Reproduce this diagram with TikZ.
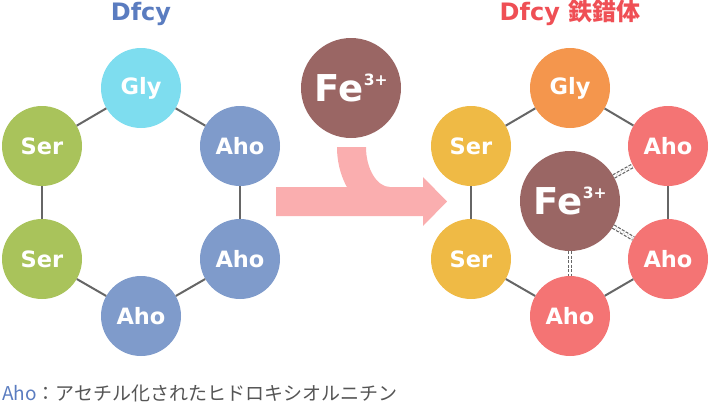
\documentclass[tikz,border=0pt]{standalone}
\usepackage{fontspec}
\setmainfont{DejaVu Sans}
\newfontfamily\cjk{Noto Sans CJK JP}
\definecolor{lblue}{HTML}{7F9BCB}
\definecolor{lcyan}{HTML}{7EDDEF}
\definecolor{lgreen}{HTML}{A9C35B}
\definecolor{rorange}{HTML}{F4964D}
\definecolor{ryellow}{HTML}{EFBA45}
\definecolor{rred}{HTML}{F47474}
\definecolor{fecol}{HTML}{9A6664}
\definecolor{tblue}{HTML}{5A7CC0}
\definecolor{tred}{HTML}{EF4F55}
\definecolor{edgecol}{HTML}{666666}
\definecolor{legcol}{HTML}{555555}
\definecolor{arrowpink}{HTML}{FAAEAF}
\newcommand{\fetext}{\fontsize{37}{37}\selectfont Fe\kern0.5pt\raisebox{15.5pt}{\fontsize{15.5}{15.5}\selectfont 3+}}
\begin{document}
\begin{tikzpicture}[x=1pt,y=-1pt,
  res/.style={circle, minimum size=80pt, inner sep=0pt, text=white, font=\bfseries\fontsize{22.5}{22.5}\selectfont},
  fe/.style={circle, minimum size=100pt, inner sep=0pt, fill=fecol, text=white, font=\bfseries},
  bond/.style={draw=edgecol, line width=2pt},
  hbond/.style={draw=edgecol, line width=1.2pt, double=white, double distance=2.4pt, dash pattern=on 3pt off 1.5pt},
  title/.style={anchor=base, inner sep=0pt, font=\bfseries\fontsize{24}{24}\selectfont}]
\path[use as bounding box] (0,0) rectangle (710,405);

% titles
\node[title, text=tblue] (t1) at (141,20) {Dfcy};
\node[title, text=tred] (t2) at (570,20) {Dfcy {\cjk\bfseries 鉄錯体}};

% arrow
\fill[arrowpink] (276,187) -- (423,187) -- (423,177) -- (447,201.5) -- (423,226) -- (423,216) -- (276,216) -- cycle;
\fill[arrowpink] (337,147) .. controls (337,185) and (361,216) .. (390,216)
  -- (390,187) .. controls (377,187) and (366,169) .. (366,147) -- cycle;

% left molecule
\node[res, fill=lcyan] (lg) at (141,88) {Gly};
\node[res, fill=lgreen] (ls1) at (42,146) {Ser};
\node[res, fill=lblue] (la1) at (240,146) {Aho};
\node[res, fill=lgreen] (ls2) at (42,259) {Ser};
\node[res, fill=lblue] (la2) at (240,259) {Aho};
\node[res, fill=lblue] (la3) at (141,316) {Aho};
\draw[bond] (lg) -- (ls1);
\draw[bond] (lg) -- (la1);
\draw[bond] (ls1) -- (ls2);
\draw[bond] (la1) -- (la2);
\draw[bond] (ls2) -- (la3);
\draw[bond] (la2) -- (la3);

% iron ion
\node[fe] (fe1) at (351,88) {\fetext};

% right complex
\node[res, fill=rorange] (rg) at (570,88) {Gly};
\node[res, fill=ryellow] (rs1) at (471,146) {Ser};
\node[res, fill=rred] (ra1) at (668,146) {Aho};
\node[res, fill=ryellow] (rs2) at (471,259) {Ser};
\node[res, fill=rred] (ra2) at (668,259) {Aho};
\node[res, fill=rred] (ra3) at (570,316) {Aho};
\node[fe] (fe2) at (570,201) {\fetext};
\draw[bond] (rg) -- (rs1);
\draw[bond] (rg) -- (ra1);
\draw[bond] (rs1) -- (rs2);
\draw[bond] (ra1) -- (ra2);
\draw[bond] (rs2) -- (ra3);
\draw[bond] (ra2) -- (ra3);
\draw[hbond] (fe2) -- (ra1);
\draw[hbond] (fe2) -- (ra2);
\draw[hbond] (fe2) -- (ra3);

% legend
\node[anchor=base west, inner sep=0pt, text=legcol, font=\cjk\fontsize{19}{19}\selectfont] (leg) at (2,400) {\textcolor{tblue}{Aho}：アセチル化されたヒドロキシオルニチン};
\end{tikzpicture}
\end{document}
